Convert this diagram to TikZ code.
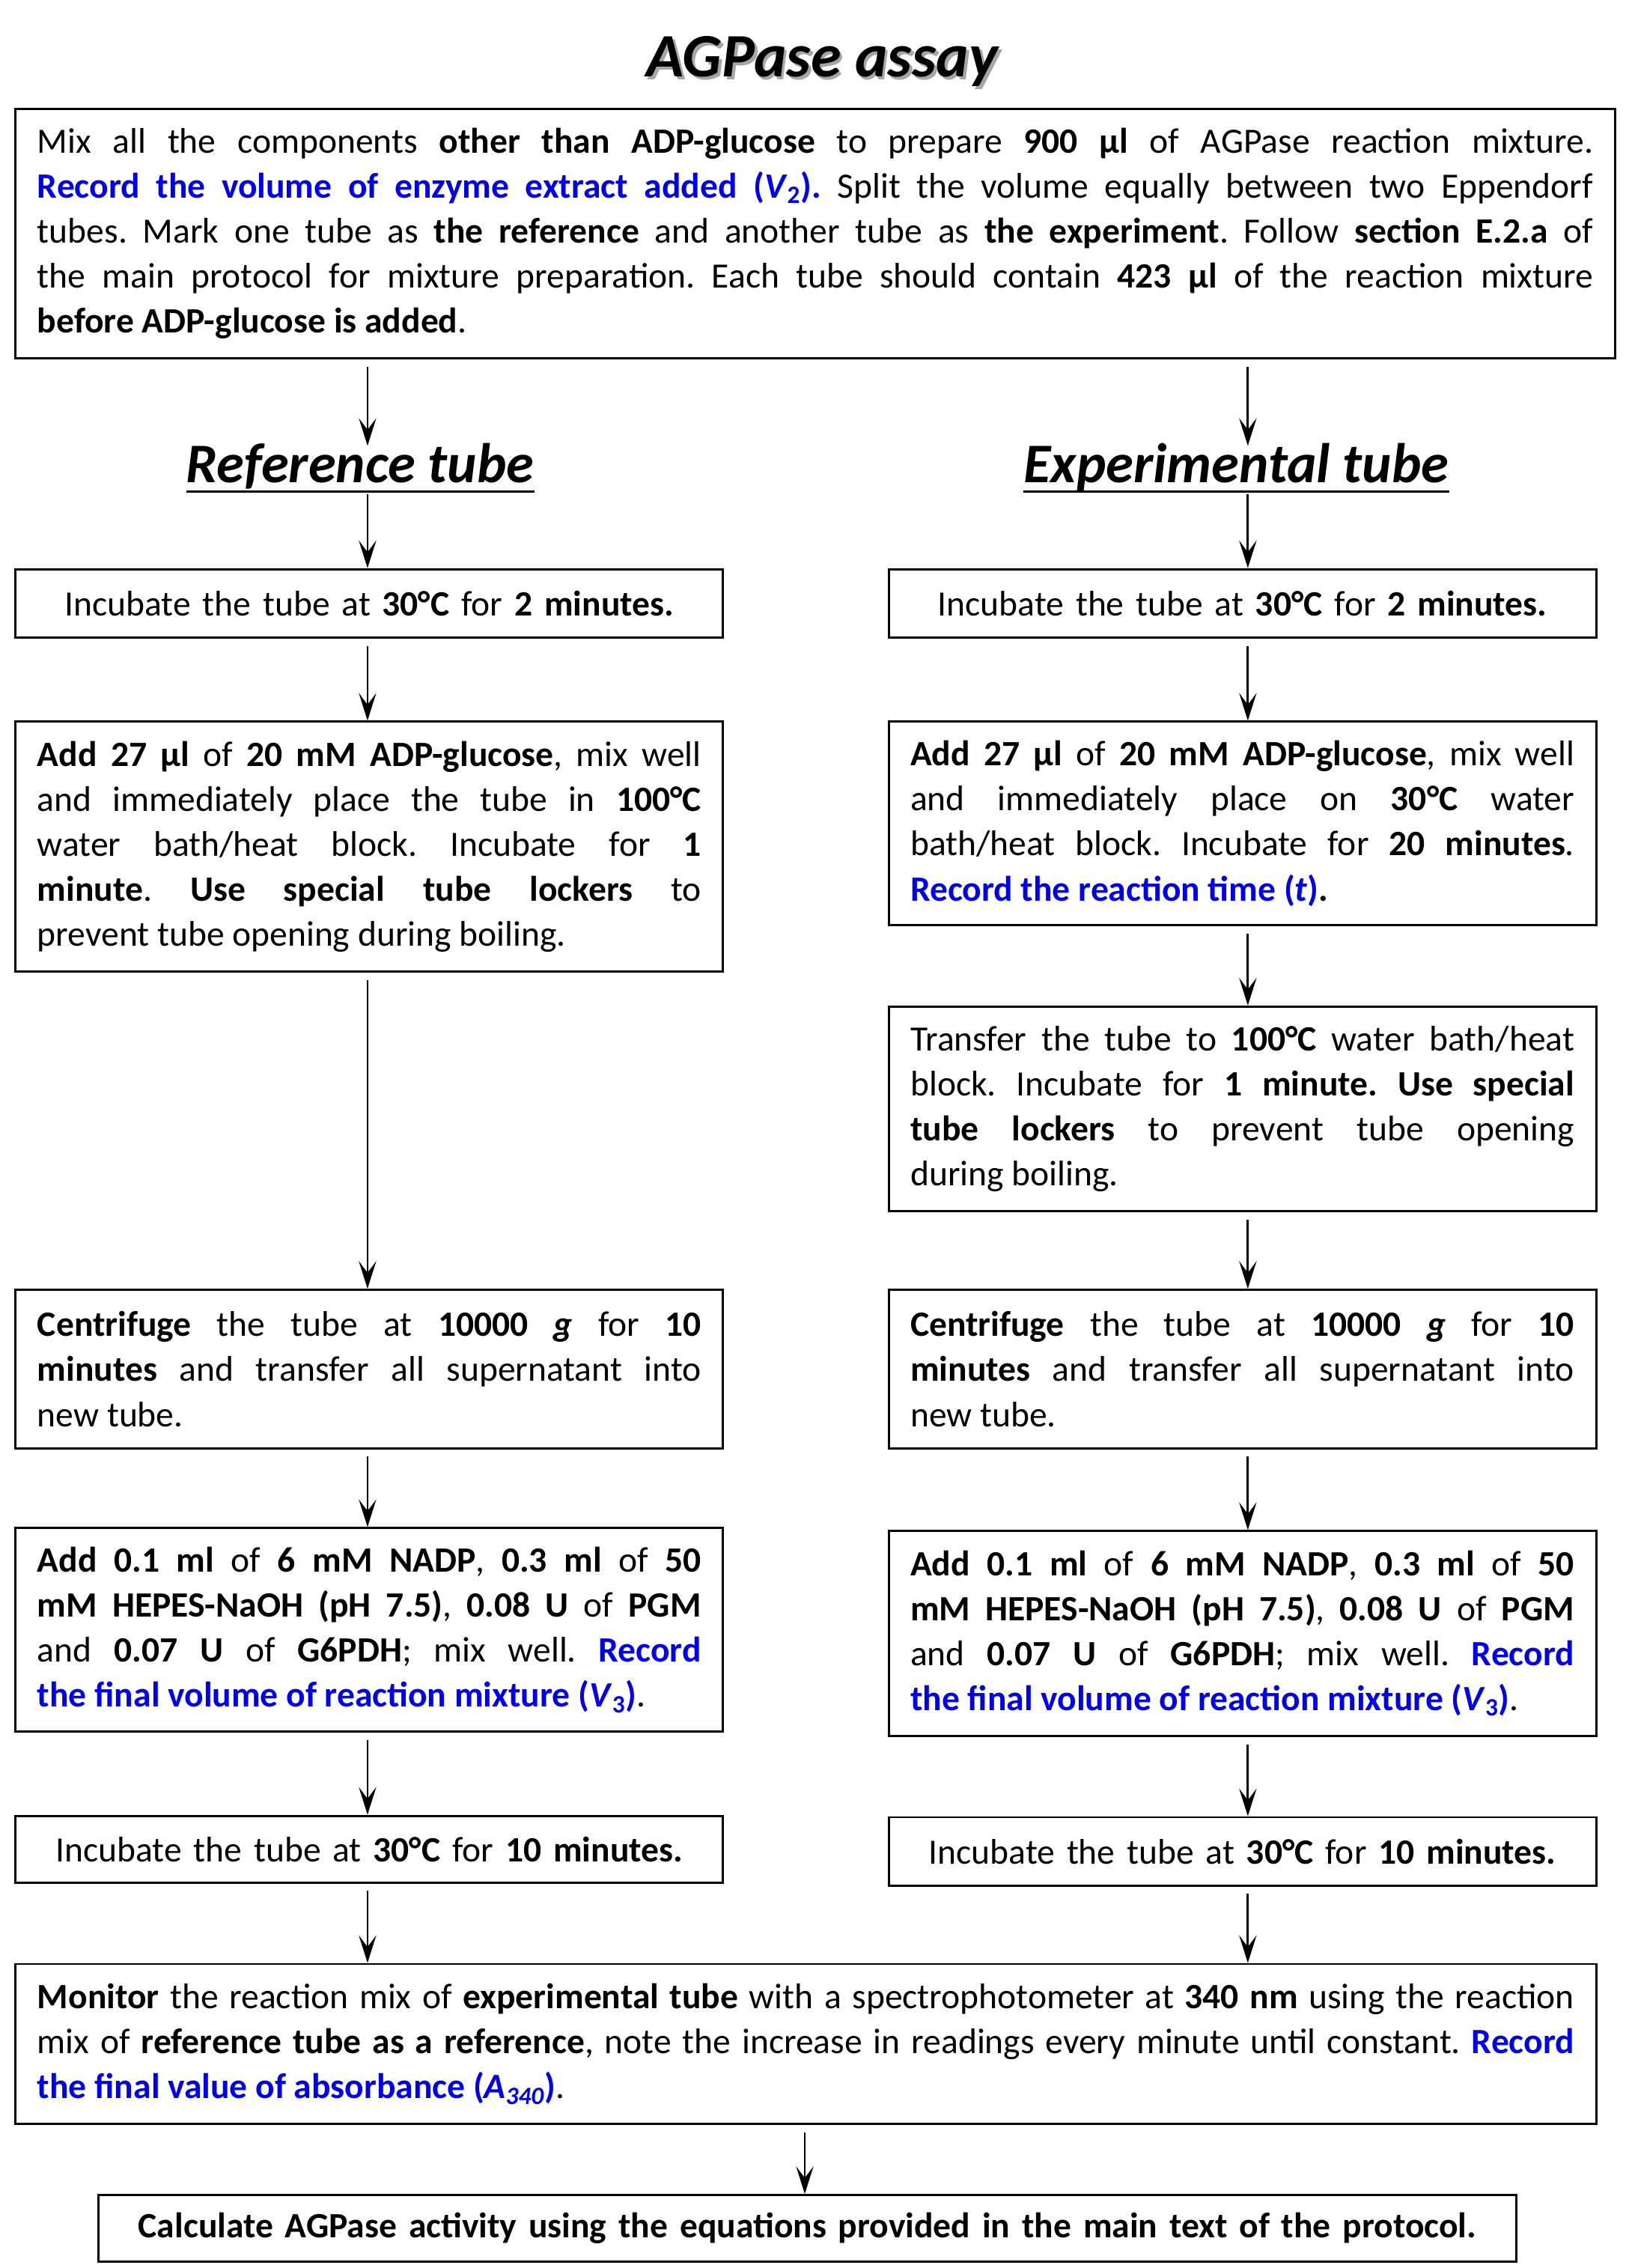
\documentclass[tikz,border=0pt]{standalone}
\usepackage{fontspec}
\setmainfont{Carlito}
\usetikzlibrary{arrows.meta}
\definecolor{recblue}{RGB}{0,0,235}
\newcommand{\bl}[1]{\textcolor{recblue}{\textbf{#1}}}
\newcommand{\bx}[1]{\textbf{#1}}
\begin{document}
\frenchspacing
\begin{tikzpicture}[x=1bp,y=-1bp,
 box/.style={draw, line width=1.5bp, inner xsep=15bp, inner ysep=0bp, align=justify,
   font=\fontsize{24.5bp}{31bp}\selectfont\frenchspacing, anchor=north west},
 cbox/.style={box, align=center},
 colw/.style={text width=457bp},
 flow/.style={-{Stealth[length=19bp,width=12bp,inset=8bp]}, line width=1.4bp},
 head/.style={inner sep=0bp, text height=25bp, text depth=6bp, anchor=base,
   font=\fontsize{38.5bp}{44bp}\selectfont\bfseries\itshape},
]
\useasboundingbox (0,0) rectangle (1123,1561);
\coordinate (lx) at (253,0);
\coordinate (rx) at (859,0);
\coordinate (mx) at (554,0);

% title
\node[text=black!35, font=\fontsize{42.5bp}{48bp}\selectfont\bfseries\itshape] (titsh) at (568,44.5) {AGPase assay};
\node[font=\fontsize{42.5bp}{48bp}\selectfont\bfseries\itshape] (title) at (566,42) {AGPase assay};

% top box
\node[box, text width=1071bp, minimum height=172bp] (top) at (10,74) {Mix all the components \bx{other than ADP-glucose} to prepare \bx{900 µl} of AGPase reaction mixture.\linebreak
\bl{Record the volume of enzyme extract added (\textit{V}\textsubscript{2}).} Split the volume equally between two Eppendorf\linebreak
tubes. Mark one tube as \bx{the reference} and another tube as \bx{the experiment}. Follow \bx{section E.2.a} of\linebreak
the main protocol for mixture preparation. Each tube should contain \bx{423 µl} of the reaction mixture\linebreak
\bx{before ADP-glucose is added}.};

% headings
\node[head] (refh) at (248,332) {Reference tube};
\node[head] (exph) at (851,332) {Experimental tube};
\draw[line width=1.8bp] (refh.south west) -- (refh.south east);
\draw[line width=1.8bp] (exph.south west) -- (exph.south east);

% left column
\node[cbox, colw, minimum height=47bp] (L1) at (10,391) {Incubate the tube at \bx{30°C} for \bx{2 minutes.}};
\node[box, colw, minimum height=172bp] (L2) at (10,496) {\bx{Add 27 µl} of \bx{20 mM ADP-glucose}, mix well\linebreak
and immediately place the tube in \bx{100°C}\linebreak
water bath/heat block. Incubate for \bx{1}\linebreak
\bx{minute}. \bx{Use special tube lockers} to\linebreak
prevent tube opening during boiling.};
\node[box, colw, minimum height=109bp] (L3) at (10,887) {\bx{Centrifuge} the tube at \bx{10000 \textit{g}} for \bx{10}\linebreak
\bx{minutes} and transfer all supernatant into\linebreak
new tube.};
\node[box, colw, minimum height=140bp] (L4) at (10,1051) {\bx{Add 0.1 ml} of \bx{6 mM NADP}, \bx{0.3 ml} of \bx{50}\linebreak
\bx{mM HEPES-NaOH (pH 7.5)}, \bx{0.08 U} of \bx{PGM}\linebreak
and \bx{0.07 U} of \bx{G6PDH}; mix well. \bl{Record}\linebreak
\bl{the final volume of reaction mixture (\textit{V}\textsubscript{3})}.};
\node[cbox, colw, minimum height=46bp] (L5) at (10,1249) {Incubate the tube at \bx{30°C} for \bx{10 minutes.}};

% right column
\node[cbox, colw, minimum height=47bp] (R1) at (611,391) {Incubate the tube at \bx{30°C} for \bx{2 minutes.}};
\node[box, colw, minimum height=140bp] (R2) at (611,496) {\bx{Add 27 µl} of \bx{20 mM ADP-glucose}, mix well\linebreak
and immediately place on \bx{30°C} water\linebreak
bath/heat block. Incubate for \bx{20 minutes}.\linebreak
\bl{Record the reaction time (\textit{t})}\bx{.}};
\node[box, colw, minimum height=141bp] (R3) at (611,692) {Transfer the tube to \bx{100°C} water bath/heat\linebreak
block. Incubate for \bx{1 minute. Use special}\linebreak
\bx{tube lockers} to prevent tube opening\linebreak
during boiling.};
\node[box, colw, minimum height=109bp] (R4) at (611,887) {\bx{Centrifuge} the tube at \bx{10000 \textit{g}} for \bx{10}\linebreak
\bx{minutes} and transfer all supernatant into\linebreak
new tube.};
\node[box, colw, minimum height=141bp] (R5) at (611,1053) {\bx{Add 0.1 ml} of \bx{6 mM NADP}, \bx{0.3 ml} of \bx{50}\linebreak
\bx{mM HEPES-NaOH (pH 7.5)}, \bx{0.08 U} of \bx{PGM}\linebreak
and \bx{0.07 U} of \bx{G6PDH}; mix well. \bl{Record}\linebreak
\bl{the final volume of reaction mixture (\textit{V}\textsubscript{3})}.};
\node[cbox, colw, minimum height=47bp] (R6) at (611,1250) {Incubate the tube at \bx{30°C} for \bx{10 minutes.}};

% bottom boxes
\node[box, text width=1058bp, minimum height=110bp] (mon) at (10,1351) {\bx{Monitor} the reaction mix of \bx{experimental tube} with a spectrophotometer at \bx{340 nm} using the reaction\linebreak
mix of \bx{reference tube as a reference}, note the increase in readings every minute until constant. \bl{Record}\linebreak
\bl{the final value of absorbance (\textit{A\textsubscript{340}})}.};
\node[cbox, text width=946bp, minimum height=46bp] (calc) at (67,1510) {\bx{Calculate AGPase activity using the equations provided in the main text of the protocol.}};

% connectors
\draw[flow, shorten <=5bp] (top.south -| lx) -- (refh.north -| lx);
\draw[flow, shorten <=5bp] (top.south -| rx) -- (exph.north -| rx);
\draw[flow, shorten <=2bp] (refh.south -| lx) -- (L1.north -| lx);
\draw[flow, shorten <=2bp] (exph.south -| rx) -- (R1.north -| rx);
\draw[flow, shorten <=5bp] (L1.south -| lx) -- (L2.north -| lx);
\draw[flow, shorten <=5bp] (L2.south -| lx) -- (L3.north -| lx);
\draw[flow, shorten <=5bp] (L3.south -| lx) -- (L4.north -| lx);
\draw[flow, shorten <=5bp] (L4.south -| lx) -- (L5.north -| lx);
\draw[flow, shorten <=5bp] (L5.south -| lx) -- (mon.north -| lx);
\draw[flow, shorten <=5bp] (R1.south -| rx) -- (R2.north -| rx);
\draw[flow, shorten <=5bp] (R2.south -| rx) -- (R3.north -| rx);
\draw[flow, shorten <=5bp] (R3.south -| rx) -- (R4.north -| rx);
\draw[flow, shorten <=5bp] (R4.south -| rx) -- (R5.north -| rx);
\draw[flow, shorten <=5bp] (R5.south -| rx) -- (R6.north -| rx);
\draw[flow, shorten <=5bp] (R6.south -| rx) -- (mon.north -| rx);
\draw[flow, shorten <=5bp] (mon.south -| mx) -- (calc.north -| mx);
\end{tikzpicture}
\end{document}
